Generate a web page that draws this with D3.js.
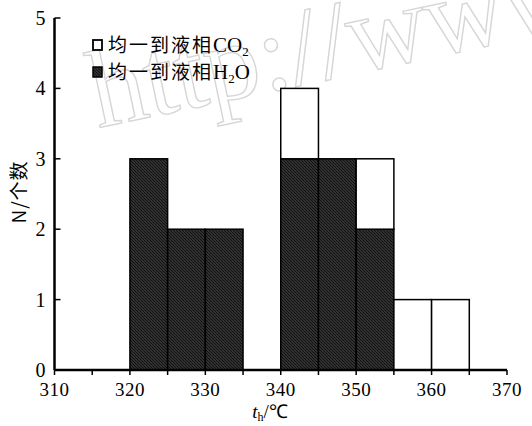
<!DOCTYPE html>
<html><head><meta charset="utf-8">
<script src="https://cdn.jsdelivr.net/npm/d3@7"></script>
<style>body{margin:0;background:#fff}svg{display:block}</style>
</head><body>
<script>
const binStarts = [320, 325, 330, 335, 340, 345, 350, 355, 360];
const h2oCounts = [3, 2, 2, 0, 3, 3, 2, 0, 0];
const co2Counts = [0, 0, 0, 0, 1, 0, 1, 1, 1];
const binWidth = 5;
const xTicks = [310, 320, 330, 340, 350, 360, 370];
const xMinorTicks = [315, 325, 335, 345, 355, 365];
const yTicks = [0, 1, 2, 3, 4, 5];
const legendCn = "均一到液相";

const W = 532, H = 426;
const svg = d3.select("body").append("svg").attr("width", W).attr("height", H);
const defs = svg.append("defs");
const pat = defs.append("pattern").attr("id", "hatch").attr("patternUnits", "userSpaceOnUse")
  .attr("width", 3).attr("height", 3);
pat.append("rect").attr("width", 3).attr("height", 3).attr("fill", "#7a7a7a");
pat.append("path").attr("d", "M-1,-1 L4,4 M-1,2 L1,4 M2,-1 L4,1").attr("stroke", "#111").attr("stroke-width", 1.6);

const x = d3.scaleLinear().domain([310, 370]).range([54.5, 507]);
const y = d3.scaleLinear().domain([0, 5]).range([370, 18]);

// watermark
svg.append("text").attr("transform", "translate(98,128) rotate(-12)")
  .attr("font-family", "Liberation Serif").attr("font-size", 110).attr("fill", "none")
  .attr("stroke", "#d6d6d6").attr("stroke-width", 1.4)
  .text("http://www");

const data = binStarts.map((b, i) => ({b, h: h2oCounts[i], c: co2Counts[i]}));
const g = svg.append("g");
g.selectAll("rect.h2o").data(data.filter(d => d.h > 0)).join("rect")
  .attr("x", d => x(d.b)).attr("width", d => x(d.b + binWidth) - x(d.b))
  .attr("y", d => y(d.h)).attr("height", d => y(0) - y(d.h))
  .attr("fill", "url(#hatch)").attr("stroke", "#000").attr("stroke-width", 1.5);
g.selectAll("rect.co2").data(data.filter(d => d.c > 0)).join("rect")
  .attr("x", d => x(d.b)).attr("width", d => x(d.b + binWidth) - x(d.b))
  .attr("y", d => y(d.h + d.c)).attr("height", d => y(d.h) - y(d.h + d.c))
  .attr("fill", "#fff").attr("stroke", "#000").attr("stroke-width", 1.5);

// axes
const font = "Liberation Serif";
const xAxis = svg.append("g").attr("transform", `translate(0,${y(0)})`);
xAxis.append("line").attr("x1", x(310)).attr("x2", x(370)).attr("stroke", "#000").attr("stroke-width", 2.5);
xAxis.selectAll("line.t").data(xTicks.concat(xMinorTicks)).join("line")
  .attr("x1", d => x(d)).attr("x2", d => x(d)).attr("y1", 0).attr("y2", 5)
  .attr("stroke", "#000").attr("stroke-width", 1.5);
xAxis.selectAll("text").data(xTicks).join("text")
  .attr("x", d => x(d)).attr("y", 26).attr("text-anchor", "middle")
  .attr("font-family", font).attr("font-size", 19).attr("letter-spacing", 0.5).text(d => d);

const yAxis = svg.append("g").attr("transform", `translate(${x(310)},0)`);
yAxis.append("line").attr("y1", y(0)).attr("y2", y(5)).attr("stroke", "#000").attr("stroke-width", 2.5);
yAxis.selectAll("line.t").data(yTicks).join("line")
  .attr("y1", d => y(d)).attr("y2", d => y(d)).attr("x1", 0).attr("x2", 6)
  .attr("stroke", "#000").attr("stroke-width", 1.5);
yAxis.selectAll("text").data(yTicks).join("text")
  .attr("x", -9).attr("y", d => y(d) + 7).attr("text-anchor", "end")
  .attr("font-family", font).attr("font-size", 20).text(d => d);

// axis titles
const xt = svg.append("text").attr("x", 270).attr("y", 418).attr("text-anchor", "middle")
  .attr("font-family", font).attr("font-size", 19);
xt.append("tspan").attr("font-style", "italic").text("t");
xt.append("tspan").attr("font-size", 12).attr("dy", 3).text("h");
xt.append("tspan").attr("dy", -3).text("/℃");

svg.append("text").attr("transform", "translate(26,192) rotate(-90)").attr("text-anchor", "middle")
  .attr("font-family", "Noto Sans CJK SC").attr("font-size", 19).attr("letter-spacing", 1).text("N/个数");

// legend
const lg = svg.append("g");
lg.append("rect").attr("x", 93).attr("y", 40).attr("width", 9).attr("height", 10)
  .attr("fill", "#fff").attr("stroke", "#000").attr("stroke-width", 1.8);
lg.append("rect").attr("x", 93).attr("y", 67).attr("width", 9).attr("height", 10)
  .attr("fill", "url(#hatch)").attr("stroke", "#000").attr("stroke-width", 1.5);
const t1 = lg.append("text").attr("x", 108).attr("y", 52).attr("font-size", 19);
t1.append("tspan").attr("font-family", "Noto Sans CJK SC").attr("letter-spacing", 2).text(legendCn);
t1.append("tspan").attr("font-family", font).attr("font-size", 21).text("CO");
t1.append("tspan").attr("font-family", font).attr("font-size", 13).attr("dy", 4).text("2");
const t2 = lg.append("text").attr("x", 108).attr("y", 79).attr("font-size", 19);
t2.append("tspan").attr("font-family", "Noto Sans CJK SC").attr("letter-spacing", 2).text(legendCn);
t2.append("tspan").attr("font-family", font).attr("font-size", 21).text("H");
t2.append("tspan").attr("font-family", font).attr("font-size", 13).attr("dy", 4).text("2");
t2.append("tspan").attr("font-family", font).attr("font-size", 21).attr("dy", -4).text("O");
</script>
</body></html>
